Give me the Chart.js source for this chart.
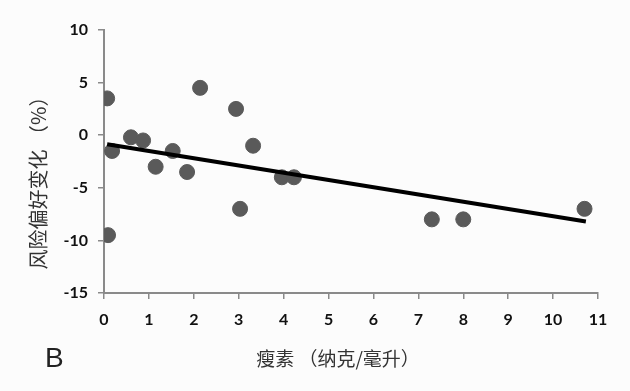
<!DOCTYPE html>
<html>
<head>
<meta charset="utf-8">
<script src="https://cdn.jsdelivr.net/npm/chart.js@4/dist/chart.umd.min.js"></script>
<style>
  html, body { margin: 0; padding: 0; background: #fcfcfc; }
  #wrap { width: 630px; height: 391px; position: relative; }
</style>
</head>
<body>
<div id="wrap"><canvas id="chart"></canvas></div>
<script>
// 瘦素 (x) 和 风险偏好变化 (y)
const leptin = [0.07, 0.18, 0.09, 0.6, 0.87, 1.15, 1.53, 1.85, 2.14, 2.94, 3.03, 3.32, 3.96, 4.23, 7.3, 8.0, 10.7];
const riskChange = [3.5, -1.5, -9.5, -0.2, -0.5, -3, -1.5, -3.5, 4.5, 2.5, -7, -1, -4, -4, -8, -8, -7];
// 趋势线端点
const trendX = [0.07, 10.73];
const trendY = [-0.86, -8.2];
const xTicks = [0, 1, 2, 3, 4, 5, 6, 7, 8, 9, 10, 11];
const yTicks = [-15, -10, -5, 0, 5, 10];

const xTitle = '瘦素 （纳克/毫升）';
const yTitle = '风险偏好变化 （%）';
const panelLabel = 'B';

const points = leptin.map((v, i) => ({ x: v, y: riskChange[i] }));
const trend = trendX.map((v, i) => ({ x: v, y: trendY[i] }));

// 标题文字插件
const labelsPlugin = {
    id: 'labels',
    afterDraw(chart) {
        const ctx = chart.ctx;
        ctx.save();
        ctx.fillStyle = '#333';
        ctx.textAlign = 'center';
        ctx.textBaseline = 'middle';
        ctx.font = '19px "Noto Sans CJK SC", sans-serif';
        ctx.fillText(xTitle, 338, 359);

        ctx.translate(38, 178);
        ctx.rotate(-Math.PI / 2);
        ctx.font = '20px "Noto Sans CJK SC", sans-serif';
        ctx.fillText(yTitle, 0, 0);
        ctx.restore();

        ctx.save();
        ctx.fillStyle = '#222';
        ctx.textAlign = 'left';
        ctx.textBaseline = 'middle';
        ctx.font = '28px "Liberation Sans", Arial, sans-serif';
        ctx.fillText(panelLabel, 45, 359);
        ctx.restore();
    }
};

const tickFont = { family: 'Lato, sans-serif', size: 16, weight: 'bold' };

new Chart(document.getElementById('chart'), {
    type: 'scatter',
    data: {
        datasets: [{
            type: 'line',
            data: trend,
            borderColor: '#000',
            borderWidth: 4,
            pointRadius: 0,
            fill: false
        }, {
            data: points,
            backgroundColor: '#5a5a5a',
            borderColor: '#5a5a5a',
            pointRadius: 7.5,
            pointHoverRadius: 7.5
        }]
    },
    options: {
        responsive: true,
        maintainAspectRatio: false,
        animation: false,
        layout: { padding: { top: 30, right: 32, left: 0, bottom: 0 } },
        plugins: { legend: { display: false }, tooltip: { enabled: false } },
        scales: {
            x: {
                type: 'linear',
                min: 0,
                max: 11,
                afterBuildTicks: s => { s.ticks = xTicks.map(v => ({ value: v })); },
                afterFit: s => { s.height = 98; },
                border: { color: '#8a8a8a', width: 2 },
                grid: { drawOnChartArea: false, color: '#8a8a8a', tickLength: 6, lineWidth: 1.5 },
                ticks: { color: '#111', font: tickFont, padding: 11 }
            },
            y: {
                type: 'linear',
                min: -15,
                max: 10,
                afterBuildTicks: s => { s.ticks = yTicks.map(v => ({ value: v })); },
                afterFit: s => { s.width = 104; },
                border: { color: '#8a8a8a', width: 2 },
                grid: { drawOnChartArea: false, color: '#8a8a8a', tickLength: 6, lineWidth: 1.5 },
                ticks: { color: '#111', font: tickFont, padding: 10 }
            }
        }
    },
    plugins: [labelsPlugin]
});
</script>
</body>
</html>
